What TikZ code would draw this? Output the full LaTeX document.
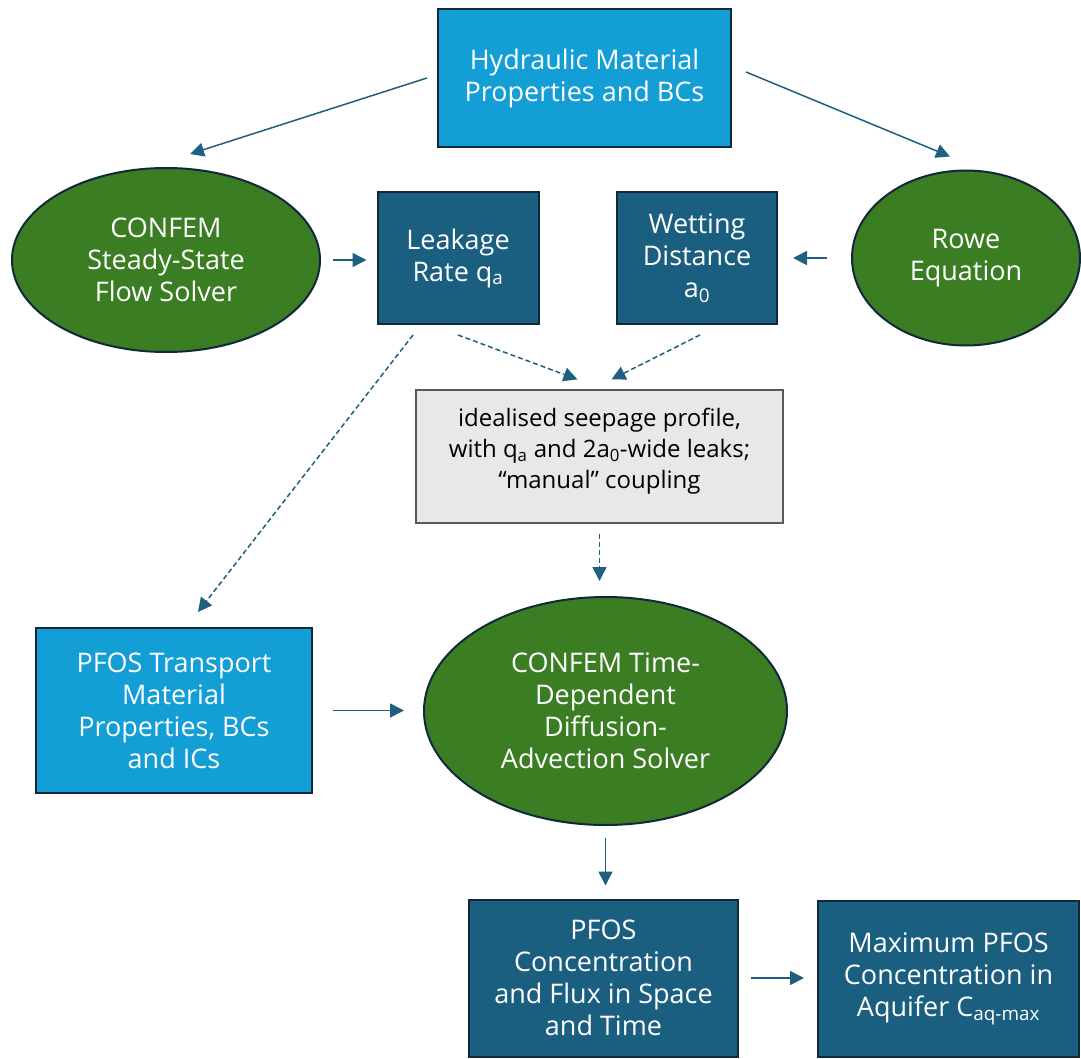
\documentclass[tikz,border=0pt]{standalone}
\usepackage{fontspec}
\setmainfont{Open Sans}
\usepackage{tikz}
\usetikzlibrary{arrows.meta,shapes.geometric}

\definecolor{lightblue}{HTML}{149ED6}
\definecolor{darkblue}{HTML}{1A5E80}
\definecolor{solvergreen}{HTML}{3B7D23}
\definecolor{rimnavy}{HTML}{10283A}
\definecolor{notegrey}{HTML}{E8E8E8}
\definecolor{linkblue}{HTML}{1F5F80}

\tikzset{
  lightbox/.style={rectangle, draw=rimnavy, line width=2pt, fill=lightblue, text=white, align=center, inner sep=0pt},
  darkbox/.style={rectangle, draw=rimnavy, line width=2pt, fill=darkblue, text=white, align=center, inner sep=0pt},
  solver/.style={ellipse, draw=rimnavy, line width=2pt, fill=solvergreen, text=white, align=center, inner sep=0pt},
  notebox/.style={rectangle, draw=black!65, line width=1.2pt, fill=notegrey, text=black, align=center, inner sep=0pt,
    font=\fontsize{24}{31}\selectfont},
  link/.style={draw=linkblue, line width=1.5pt, -{Triangle[length=14pt,width=14pt]}},
  dlink/.style={link, dash pattern=on 5pt off 3pt}
}

\begin{document}
\begin{tikzpicture}[x=1pt, y=-1pt, font=\fontsize{27}{32}\selectfont]
\useasboundingbox (0,0) rectangle (1081,1059);

% inputs and steady-state flow
\node [lightbox, minimum width=293pt, minimum height=138pt] (hyd) at (584.5,78) {Hydraulic Material\\Properties and BCs};
\node [solver, minimum width=308pt, minimum height=184pt] (confem) at (166,260) {CONFEM\\Steady-State\\Flow Solver};
\node [darkbox, minimum width=161pt, minimum height=132pt] (leak) at (458,258) {Leakage\\Rate q\textsubscript{a}};
\node [darkbox, minimum width=160pt, minimum height=132pt] (wet) at (697,258) {Wetting\\Distance\\a\textsubscript{0}};
\node [solver, minimum width=228pt, minimum height=175pt] (rowe) at (966,258) {Rowe\\Equation};

% coupling
\node [notebox, minimum width=367pt, minimum height=133pt] (seep) at (599.5,456.5) {idealised seepage profile,\\with q\textsubscript{a} and 2a\textsubscript{0}-wide leaks;\\“manual” coupling\\[-15pt]\mbox{}};

% transport
\node [lightbox, minimum width=276pt, minimum height=165pt] (pfos) at (174,710.5) {PFOS Transport\\Material\\Properties, BCs\\and ICs};
\node [solver, minimum width=363pt, minimum height=228pt] (ctd) at (605.5,711) {CONFEM Time-\\Dependent\\Diffusion-\\Advection Solver};
\node [darkbox, minimum width=269pt, minimum height=157pt] (conc) at (603.5,978) {PFOS\\Concentration\\and Flux in Space\\and Time};
\node [darkbox, minimum width=261pt, minimum height=156pt] (maxc) at (948.5,979) {Maximum PFOS\\Concentration in\\Aquifer C\textsubscript{aq-max}};

% connectors
\draw [link] ([shift={(-10,0)}]hyd.west) -- ([shift={(24,-13)}]confem.north);
\draw [link] ([shift={(14,-6)}]hyd.east) -- ([shift={(-16,-13)}]rowe.north);
\draw [link, shorten <=12pt, shorten >=10pt] (confem.east) -- (confem.east -| leak.west);
\draw [link, shorten <=24pt, shorten >=15pt] (rowe.west) -- (rowe.west -| wet.east);
\draw [dlink] ([shift={(0,10)}]leak.south) -- ([shift={(-22,-10)}]seep.north);
\draw [dlink] ([shift={(3,10)}]wet.south) -- ([shift={(12,-10)}]seep.north);
\draw [dlink] ([shift={(-45,10)}]leak.south) -- ([shift={(24,-15)}]pfos.north);
\draw [dlink, shorten <=10pt, shorten >=15pt] (seep.south) -- (seep.south |- ctd.north);
\draw [link, shorten <=20pt, shorten >=19pt] (pfos.east) -- (pfos.east -| ctd.west);
\draw [link, shorten <=12pt, shorten >=13pt] (ctd.south) -- (ctd.south |- conc.north);
\draw [link, shorten <=12pt, shorten >=13pt] (conc.east) -- (conc.east -| maxc.west);
\end{tikzpicture}
\end{document}
